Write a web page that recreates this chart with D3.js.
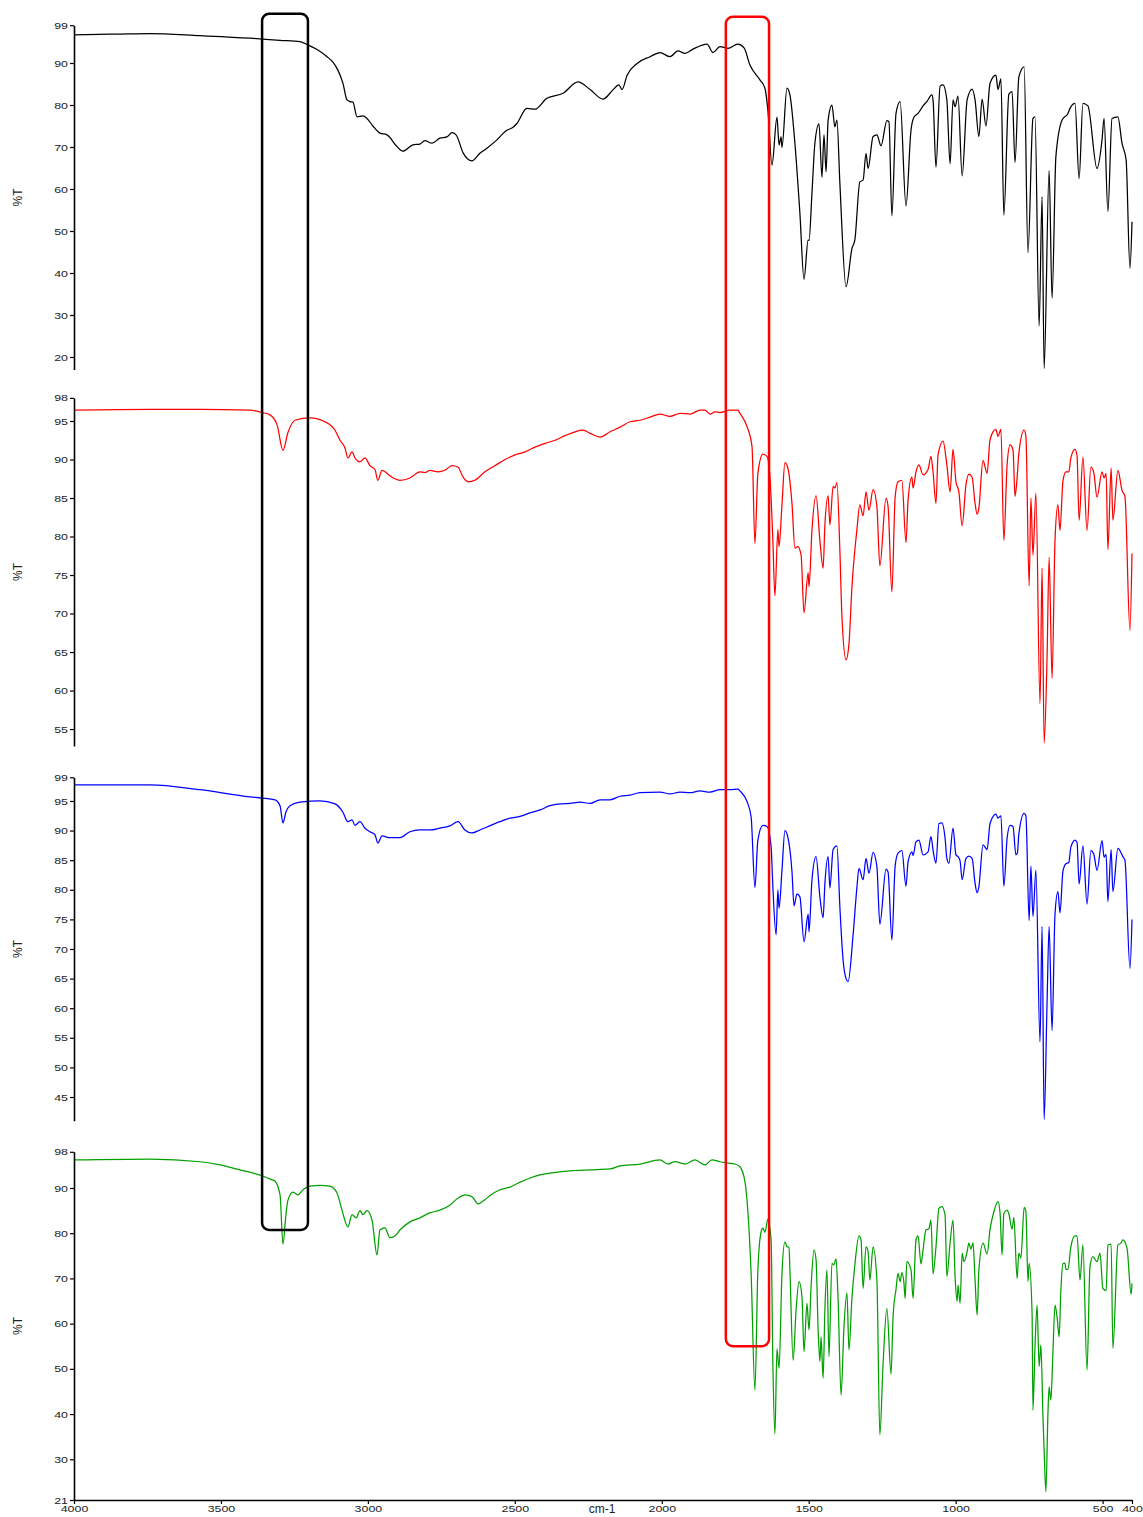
<!DOCTYPE html>
<html><head><meta charset="utf-8">
<script src="https://cdn.jsdelivr.net/npm/d3@7"></script>
<style>
html,body{margin:0;padding:0;background:#fff;}
svg{display:block;font-family:"Liberation Sans",Arial,sans-serif;}
</style></head>
<body><svg id="c" width="1143" height="1517"></svg>
<script>
// ---------- DATA (wavenumber cm-1, %T) ----------
const xTicks = [4000, 3500, 3000, 2500, 2000, 1500, 1000, 500, 400];
const xDomain = [4000, 400];

const ticks1 = [99, 90, 80, 70, 60, 50, 40, 30, 20];
const ticks2 = [98, 95, 90, 85, 80, 75, 70, 65, 60, 55];
const ticks3 = [99, 95, 90, 85, 80, 75, 70, 65, 60, 55, 50, 45];
const ticks4 = [98, 90, 80, 70, 60, 50, 40, 30, 21];

const yDomain1 = [17, 99];
const yDomain2 = [52.8, 98];
const yDomain3 = [41, 99];
const yDomain4 = [21, 98];

const spectrumBlack = [
[4000,96.7],[3843,96.9],[3741,97.0],[3571,96.5],[3401,95.9],[3299,95.4],[3231,95.1],[3204,94.3],[3170,93.1],[3139,91.5],[3119,90.2],[3102,88.3],[3085,85.2],[3071,81.2],[3061,80.8],[3051,80.7],[3037,77.2],[3017,77.4],[3003,76.8],[2983,75.0],[2959,73.3],[2935,72.9],[2901,70.1],[2881,69.0],[2847,70.5],[2823,70.7],[2806,71.5],[2782,70.9],[2755,72.1],[2731,72.4],[2714,73.4],[2700,72.9],[2676,68.6],[2646,66.7],[2619,68.5],[2595,69.7],[2561,71.7],[2527,74.0],[2510,74.5],[2493,75.6],[2459,79.2],[2431,79.0],[2391,81.6],[2336,82.8],[2285,85.5],[2244,83.7],[2200,81.4],[2166,83.6],[2146,84.8],[2135,83.7],[2118,87.1],[2084,89.9],[2040,91.5],[2006,92.5],[1972,91.5],[1945,92.9],[1921,92.3],[1894,93.3],[1846,94.5],[1826,92.5],[1802,93.9],[1775,93.5],[1741,94.5],[1720,93.6],[1700,89.5],[1666,86.0],[1649,84.0],[1639,78.8],[1625,65.7],[1608,77.1],[1601,70.5],[1594,72.4],[1591,69.9],[1574,84.0],[1564,82.4],[1547,70.9],[1530,54.2],[1516,38.5],[1502,47.9],[1499,47.7],[1489,59.0],[1479,70.9],[1465,75.5],[1455,62.8],[1448,72.9],[1441,64.1],[1434,76.4],[1421,80.0],[1411,74.8],[1404,76.4],[1394,61.4],[1373,36.7],[1353,45.8],[1343,47.9],[1326,61.7],[1315,62.1],[1305,68.5],[1298,64.9],[1281,72.5],[1268,72.9],[1254,70.3],[1234,76.3],[1227,76.0],[1217,53.6],[1203,78.0],[1189,80.8],[1169,56.0],[1152,74.0],[1142,77.1],[1128,78.0],[1111,79.8],[1098,80.8],[1081,82.4],[1077,81.2],[1067,65.2],[1053,84.5],[1043,84.8],[1030,81.2],[1019,66.0],[1009,81.2],[1002,79.6],[992,82.1],[978,63.1],[961,81.2],[944,83.8],[934,81.2],[921,72.5],[910,81.4],[897,75.0],[883,85.2],[863,87.1],[856,83.7],[846,86.2],[836,53.8],[819,82.6],[808,83.2],[798,66.3],[785,86.7],[767,89.1],[754,44.8],[737,76.8],[730,77.2],[716,27.4],[706,58.2],[699,17.3],[682,64.4],[672,34.0],[659,67.7],[638,76.4],[618,78.0],[611,79.2],[601,80.2],[594,80.4],[580,62.5],[567,80.4],[550,79.8],[519,64.9],[502,71.7],[495,76.8],[482,54.6],[468,76.8],[448,77.2],[434,70.9],[420,66.9],[407,41.1],[400,52.2]
];

const spectrumRed = [
[4000,96.4],[3741,96.5],[3571,96.5],[3401,96.4],[3360,96.1],[3333,95.8],[3309,94.5],[3289,91.2],[3272,93.5],[3248,95.1],[3197,95.4],[3146,94.9],[3112,93.8],[3095,92.5],[3078,91.5],[3068,90.2],[3054,91.0],[3044,90.2],[3027,89.7],[3010,90.2],[2993,89.2],[2976,88.7],[2966,87.3],[2952,88.6],[2942,88.4],[2925,87.9],[2908,87.5],[2891,87.3],[2857,87.6],[2823,88.4],[2806,88.3],[2789,88.6],[2761,88.4],[2738,88.6],[2714,89.2],[2693,89.0],[2676,87.7],[2659,87.1],[2636,87.3],[2602,88.4],[2568,89.2],[2533,90.0],[2499,90.6],[2465,91.0],[2431,91.6],[2397,92.1],[2363,92.5],[2329,93.1],[2295,93.6],[2268,93.8],[2244,93.4],[2210,92.9],[2176,93.6],[2142,94.2],[2108,94.9],[2074,95.1],[2040,95.5],[2006,95.9],[1972,95.6],[1938,96.0],[1904,95.9],[1870,96.4],[1853,96.4],[1836,95.9],[1819,96.2],[1802,96.1],[1768,96.4],[1741,96.4],[1734,96.0],[1710,94.3],[1693,91.7],[1683,79.1],[1673,88.2],[1656,90.7],[1642,90.4],[1632,87.8],[1622,79.5],[1615,72.3],[1605,80.9],[1601,78.7],[1591,84.1],[1581,89.6],[1571,88.9],[1557,84.3],[1547,78.5],[1537,78.7],[1526,77.6],[1516,70.1],[1502,75.3],[1499,73.5],[1489,80.8],[1475,85.3],[1462,79.5],[1451,75.9],[1445,81.5],[1434,85.3],[1428,81.5],[1417,86.5],[1411,86.3],[1404,87.0],[1394,78.2],[1387,69.6],[1373,64.0],[1363,66.1],[1353,73.4],[1336,80.9],[1326,84.1],[1315,82.7],[1305,85.8],[1295,83.4],[1281,86.1],[1268,83.9],[1258,76.2],[1237,85.0],[1230,83.9],[1217,72.8],[1206,85.1],[1196,87.1],[1183,87.3],[1169,79.2],[1162,84.7],[1149,87.7],[1145,86.3],[1135,88.4],[1125,89.3],[1111,88.0],[1094,88.7],[1084,90.4],[1077,88.4],[1067,84.3],[1060,90.6],[1043,92.4],[1030,89.3],[1019,85.8],[1009,91.3],[999,87.1],[989,85.8],[978,81.4],[965,86.7],[955,88.1],[944,87.7],[934,84.3],[927,82.9],[921,83.7],[907,89.9],[893,88.2],[883,92.6],[863,93.9],[856,93.0],[846,93.9],[836,79.5],[825,89.3],[815,91.9],[805,91.3],[798,85.2],[791,87.6],[785,90.8],[767,93.8],[761,93.0],[750,73.6],[744,85.0],[737,77.6],[727,85.6],[713,58.3],[706,75.9],[699,53.2],[689,64.4],[682,77.3],[672,61.6],[662,79.5],[652,84.1],[645,80.8],[635,87.2],[625,88.4],[615,88.4],[608,90.2],[594,91.3],[587,90.5],[580,82.1],[567,90.3],[553,80.8],[540,89.0],[530,88.3],[519,85.1],[502,88.4],[495,87.6],[488,88.2],[482,78.3],[471,88.9],[465,82.1],[448,88.6],[434,86.0],[424,85.2],[407,67.8],[400,77.8]
];

const spectrumBlue = [
[4000,97.7],[3741,97.7],[3571,96.9],[3401,95.7],[3360,95.5],[3316,95.2],[3299,94.2],[3289,91.3],[3279,93.1],[3265,94.2],[3231,94.8],[3163,95.0],[3112,94.5],[3085,93.1],[3068,91.5],[3054,91.8],[3044,90.9],[3027,91.5],[3010,90.4],[2993,89.8],[2976,89.3],[2966,87.9],[2952,89.1],[2925,88.8],[2891,88.8],[2857,89.8],[2823,90.1],[2789,90.1],[2755,90.4],[2721,90.8],[2693,91.5],[2670,90.1],[2646,89.6],[2619,90.1],[2585,90.8],[2551,91.5],[2516,92.1],[2482,92.4],[2448,93.0],[2414,93.5],[2380,94.2],[2346,94.5],[2312,94.6],[2278,94.8],[2244,94.6],[2210,95.2],[2176,95.2],[2142,95.8],[2108,96.0],[2074,96.4],[2006,96.5],[1972,96.2],[1938,96.5],[1904,96.4],[1870,96.7],[1836,96.5],[1802,96.9],[1768,96.9],[1741,97.0],[1734,96.7],[1710,94.9],[1696,92.3],[1683,80.4],[1673,88.4],[1656,90.9],[1642,90.7],[1628,87.3],[1622,80.5],[1611,72.4],[1605,80.0],[1601,76.9],[1591,83.3],[1581,90.0],[1571,88.9],[1557,83.1],[1550,77.3],[1540,79.3],[1530,78.8],[1516,71.2],[1502,75.9],[1499,72.9],[1489,81.7],[1475,85.6],[1462,78.8],[1451,75.3],[1445,81.0],[1434,85.6],[1428,80.3],[1417,86.8],[1404,87.4],[1394,77.1],[1383,68.1],[1373,65.0],[1366,64.5],[1349,72.4],[1336,80.4],[1329,83.6],[1315,81.7],[1305,85.3],[1295,82.8],[1281,86.3],[1268,83.9],[1258,74.2],[1237,83.5],[1230,83.0],[1217,71.5],[1206,84.0],[1196,86.2],[1183,86.6],[1169,80.6],[1162,84.7],[1149,86.4],[1145,85.8],[1135,88.1],[1125,88.4],[1111,85.9],[1094,86.4],[1084,89.0],[1077,86.7],[1067,84.5],[1057,91.2],[1047,91.3],[1036,88.7],[1030,85.3],[1023,84.5],[1009,90.4],[999,85.9],[992,85.6],[985,84.9],[978,81.7],[965,85.3],[955,85.7],[944,85.3],[934,81.1],[927,79.5],[921,80.5],[907,87.6],[893,86.8],[883,91.2],[863,92.8],[856,92.1],[846,92.5],[836,80.6],[825,88.7],[815,90.9],[805,90.7],[795,85.9],[790,86.2],[785,89.4],[767,92.9],[761,92.5],[750,74.8],[744,84.0],[737,75.5],[727,83.3],[713,54.3],[706,73.8],[699,41.2],[689,61.0],[682,73.8],[672,56.2],[662,75.9],[652,79.7],[645,76.1],[635,83.1],[625,84.4],[615,84.6],[608,87.2],[594,88.4],[587,88.0],[580,81.0],[567,87.4],[553,77.6],[540,86.6],[530,86.0],[519,83.3],[502,88.3],[495,85.5],[488,86.0],[482,78.0],[471,86.8],[465,79.7],[448,87.0],[431,85.6],[424,85.0],[407,66.7],[400,75.0]
];

const spectrumGreen = [
[4000,96.2],[3741,96.4],[3571,95.8],[3503,95.1],[3435,94.0],[3360,92.7],[3326,91.8],[3316,91.5],[3299,88.5],[3289,77.6],[3279,84.0],[3272,87.3],[3255,89.1],[3238,88.5],[3221,89.6],[3197,90.4],[3163,90.6],[3129,90.4],[3105,88.9],[3088,85.1],[3068,81.4],[3054,84.1],[3040,83.4],[3027,85.0],[3017,84.1],[3003,85.0],[2986,82.9],[2969,75.2],[2959,80.7],[2942,81.2],[2925,79.0],[2908,79.4],[2891,80.7],[2857,82.5],[2823,83.4],[2789,84.5],[2755,85.1],[2721,86.2],[2693,87.8],[2670,88.5],[2646,88.1],[2625,86.5],[2602,87.4],[2585,88.3],[2551,89.6],[2516,90.2],[2482,91.3],[2448,92.2],[2414,92.9],[2380,93.3],[2312,93.8],[2244,94.0],[2176,94.2],[2142,94.9],[2074,95.3],[2006,96.2],[1979,95.3],[1955,95.8],[1921,95.3],[1887,96.2],[1853,95.1],[1829,96.2],[1802,95.8],[1785,95.6],[1751,95.3],[1734,94.7],[1717,91.4],[1710,87.3],[1696,71.1],[1683,45.3],[1673,71.9],[1662,80.3],[1656,81.1],[1649,80.2],[1639,83.1],[1628,78.5],[1622,51.2],[1615,35.6],[1608,54.5],[1601,50.1],[1591,71.1],[1581,78.1],[1574,77.0],[1567,76.9],[1564,71.9],[1553,51.9],[1543,63.0],[1533,69.3],[1523,66.0],[1516,53.8],[1506,64.5],[1499,58.6],[1492,68.2],[1482,76.3],[1475,74.1],[1468,58.6],[1462,51.6],[1458,57.1],[1451,47.9],[1445,63.0],[1438,71.9],[1431,52.7],[1421,73.3],[1414,73.0],[1407,74.4],[1400,65.2],[1390,44.2],[1380,59.3],[1370,66.8],[1363,54.2],[1353,65.6],[1343,73.0],[1329,79.4],[1322,78.5],[1315,67.8],[1305,77.0],[1298,76.0],[1292,69.6],[1281,77.0],[1268,69.6],[1258,35.4],[1247,51.2],[1234,63.4],[1220,48.8],[1213,61.5],[1203,67.6],[1196,71.1],[1189,69.3],[1183,71.3],[1176,69.0],[1172,65.6],[1166,73.7],[1152,71.9],[1145,65.6],[1135,78.5],[1128,79.4],[1118,73.2],[1111,76.3],[1101,80.7],[1091,81.0],[1084,82.9],[1077,71.0],[1067,77.0],[1057,85.5],[1047,85.9],[1036,84.0],[1030,70.4],[1019,77.9],[1009,82.9],[1002,70.4],[995,64.9],[992,68.5],[985,64.5],[978,75.6],[972,73.7],[961,75.9],[955,77.8],[948,76.5],[941,77.9],[934,69.6],[927,61.9],[921,71.9],[907,77.8],[893,75.4],[883,80.9],[873,84.0],[856,87.0],[849,84.5],[842,75.2],[836,84.4],[825,85.1],[819,84.3],[808,80.9],[802,83.5],[791,70.0],[785,75.6],[778,74.5],[767,85.7],[761,84.8],[754,69.3],[750,73.3],[740,62.3],[737,40.9],[730,54.9],[723,64.1],[716,50.5],[710,55.3],[703,39.4],[699,32.0],[693,22.8],[686,40.2],[682,46.0],[676,43.1],[669,53.8],[662,64.1],[655,61.5],[648,57.1],[642,67.4],[635,73.3],[628,73.4],[625,72.0],[618,72.0],[608,77.0],[594,79.4],[587,79.4],[577,69.6],[567,77.4],[553,49.7],[543,72.6],[533,74.8],[519,73.7],[509,75.6],[499,67.8],[488,67.3],[482,77.4],[471,77.6],[465,54.5],[448,77.4],[438,77.8],[431,78.5],[417,76.7],[403,66.5],[400,68.9]
];

// annotation boxes: wavenumber span, top %T (panel 1 scale), bottom %T (panel 4 scale)
const boxSpans = [[3360, 3204], [1782, 1635]];
const boxTops = [101.7, 101.0];
const boxBottoms = [80.7, 55.0];
const boxColors = ["#000000", "#ff0000"];

const seriesColors = ["#000000", "#ff0000", "#0000ff", "#00a000"];
const yLabel = "%T";
const xLabel = "cm-1";

// ---------- DRAW ----------
const svg = d3.select("#c");
const x = d3.scaleLinear().domain(xDomain).range([74, 1132]);

const panels = [
  {data: spectrumBlack, ticks: ticks1, domain: yDomain1, top: 25.2, bottom: 369.6},
  {data: spectrumRed, ticks: ticks2, domain: yDomain2, top: 397.9, bottom: 746},
  {data: spectrumBlue, ticks: ticks3, domain: yDomain3, top: 777.3, bottom: 1120.7},
  {data: spectrumGreen, ticks: ticks4, domain: yDomain4, top: 1151.8, bottom: 1500}
];

function styleTickText(sel) {
  sel.attr("font-size", 9.5).attr("fill", "#222")
    .attr("font-family", "'Liberation Sans', Arial, sans-serif")
    .attr("lengthAdjust", "spacingAndGlyphs")
    .attr("textLength", function () { return this.textContent.length * 6.9; });
}

const scales = [];
panels.forEach((p, i) => {
  const y = d3.scaleLinear().domain(p.domain).range([p.bottom, p.top]);
  scales.push(y);
  const line = d3.line().x(d => x(d[0])).y(d => y(d[1])).curve(d3.curveMonotoneX);
  svg.append("path").datum(p.data)
    .attr("d", line)
    .attr("fill", "none")
    .attr("stroke", seriesColors[i])
    .attr("stroke-width", 1.25)
    .attr("stroke-linejoin", "round");

  const ax = svg.append("g").attr("transform", "translate(74,0)")
    .call(d3.axisLeft(y).tickValues(p.ticks).tickSizeInner(4).tickSizeOuter(0).tickPadding(2).tickFormat(d3.format("d")));
  ax.select(".domain").attr("stroke", "#000").attr("stroke-width", 1.6);
  ax.selectAll(".tick line").attr("stroke", "#000").attr("stroke-width", 1.2);
  styleTickText(ax.selectAll(".tick text"));

  svg.append("text")
    .attr("transform", `translate(22,${(p.top + p.bottom) / 2}) rotate(-90)`)
    .attr("text-anchor", "middle")
    .attr("font-size", 12)
    .attr("fill", "#222")
    .text(yLabel);
});

// x axis
const xa = svg.append("g").attr("transform", "translate(0,1500)")
  .call(d3.axisBottom(x).tickValues(xTicks).tickSizeInner(4).tickSizeOuter(0).tickPadding(1).tickFormat(d3.format("d")));
xa.select(".domain").attr("stroke", "#000").attr("stroke-width", 1.6);
xa.selectAll(".tick line").attr("stroke", "#000").attr("stroke-width", 1.2);
styleTickText(xa.selectAll(".tick text"));

svg.append("text").attr("x", 602).attr("y", 1513)
  .attr("text-anchor", "middle").attr("font-size", 12).attr("fill", "#222").text(xLabel);

// annotation boxes
boxSpans.forEach((s, i) => {
  const x0 = x(s[0]), x1 = x(s[1]);
  const y0 = scales[0](boxTops[i]), y1 = scales[3](boxBottoms[i]);
  svg.append("rect")
    .attr("x", x0).attr("y", y0)
    .attr("width", x1 - x0).attr("height", y1 - y0)
    .attr("rx", 7).attr("ry", 7)
    .attr("fill", "none")
    .attr("stroke", boxColors[i])
    .attr("stroke-width", 2.5);
});
</script>
</body></html>
